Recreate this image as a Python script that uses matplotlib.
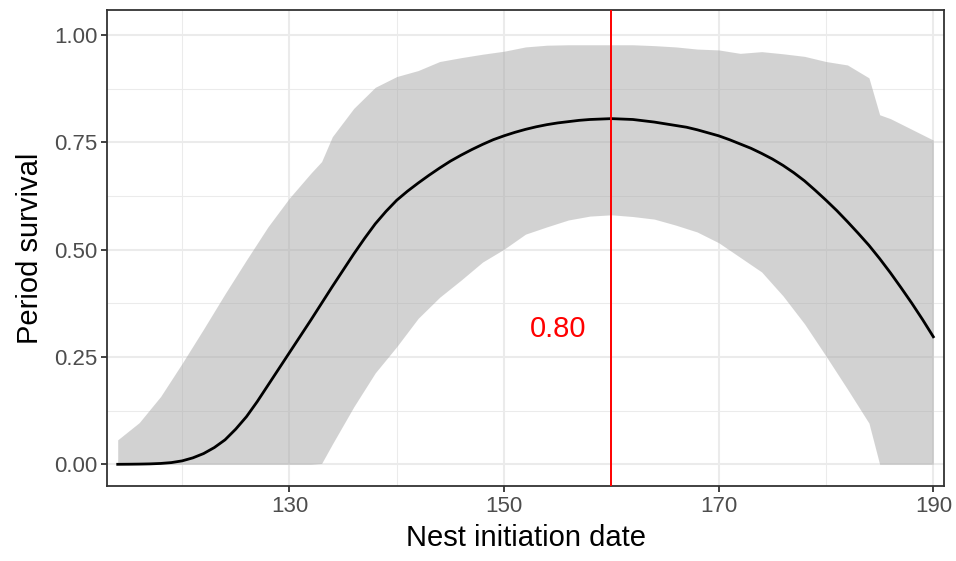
import numpy as np
import matplotlib
matplotlib.use("Agg")
import matplotlib.pyplot as plt
from matplotlib.ticker import MultipleLocator

plt.rcParams['font.family'] = ['Liberation Sans', 'DejaVu Sans']

# nest initiation day for the fitted line
day = list(range(114, 191))

# predicted period survival
survival = [0.0, 0.0002, 0.0005, 0.001, 0.002, 0.004, 0.008, 0.015, 0.025, 0.039,
            0.057, 0.082, 0.111, 0.146, 0.184, 0.222, 0.26, 0.298, 0.336, 0.375,
            0.414, 0.452, 0.49, 0.526, 0.56, 0.589, 0.615, 0.636, 0.655, 0.673,
            0.69, 0.706, 0.72, 0.733, 0.745, 0.756, 0.765, 0.773, 0.780, 0.786,
            0.791, 0.795, 0.798, 0.801, 0.803, 0.804, 0.805, 0.804, 0.803, 0.800,
            0.797, 0.793, 0.789, 0.785, 0.779, 0.772, 0.765, 0.756, 0.746, 0.736,
            0.724, 0.711, 0.696, 0.679, 0.66, 0.638, 0.615, 0.591, 0.565, 0.538,
            0.51, 0.479, 0.446, 0.411, 0.375, 0.337, 0.297]

# confidence band
band_day = [114, 116, 118, 120, 122, 124, 126, 128, 130, 132, 133, 134, 136, 138,
            140, 142, 144, 146, 148, 150, 152, 154, 156, 158, 160, 162, 164, 166,
            168, 170, 172, 174, 176, 178, 180, 182, 184, 185, 186, 188, 190]
upper = [0.057, 0.097, 0.158, 0.235, 0.315, 0.397, 0.476, 0.553, 0.62, 0.678,
         0.705, 0.763, 0.829, 0.878, 0.903, 0.917, 0.938, 0.947, 0.955, 0.962,
         0.972, 0.976, 0.977, 0.977, 0.977, 0.977, 0.975, 0.972, 0.967, 0.965,
         0.957, 0.961, 0.956, 0.95, 0.938, 0.93, 0.90, 0.814, 0.805, 0.78, 0.755]
lower = [0, 0, 0, 0, 0, 0, 0, 0, 0, 0,
         0.002, 0.047, 0.134, 0.213, 0.274, 0.34, 0.389, 0.429, 0.471, 0.501,
         0.536, 0.553, 0.569, 0.578, 0.581, 0.577, 0.571, 0.557, 0.541, 0.516,
         0.482, 0.448, 0.392, 0.327, 0.252, 0.175, 0.096, 0.0, 0, 0, 0]

peak_day = 160
peak_label = "0.80"

fig = plt.figure(figsize=(9.56, 5.61), dpi=100)
ax = fig.add_axes([0.1119, 0.1337, 0.8756, 0.8485])

ax.xaxis.set_major_locator(MultipleLocator(20, offset=10))
ax.xaxis.set_minor_locator(MultipleLocator(20))
ax.yaxis.set_major_locator(MultipleLocator(0.25))
ax.yaxis.set_minor_locator(MultipleLocator(0.125))
ax.grid(which='major', color='#EBEBEB', linewidth=1.5, zorder=0)
ax.grid(which='minor', color='#EBEBEB', linewidth=0.75, zorder=0)
ax.set_axisbelow(True)

ax.fill_between(band_day, lower, upper, color='#A7A7A7', alpha=0.5, linewidth=0, zorder=1)
ax.plot(day, survival, color='black', linewidth=2.0, zorder=2)
ax.axvline(peak_day, color='#FF0000', linewidth=1.4, zorder=3)
ax.text(155, 0.296, peak_label, color='#FF0000', fontsize=21, ha='center', va='baseline')

ax.set_xlim(113, 191)
ax.set_ylim(-0.0505, 1.058)
ax.set_yticks([0, 0.25, 0.5, 0.75, 1.0])
ax.set_yticklabels(['0.00', '0.25', '0.50', '0.75', '1.00'])

for s in ax.spines.values():
    s.set_color('#333333')
    s.set_linewidth(1.3)
ax.tick_params(which='major', length=4, width=1.3, color='#333333',
               labelcolor='#4D4D4D', labelsize=16, pad=3)
ax.tick_params(which='minor', length=0)

ax.set_xlabel('Nest initiation date', fontsize=21, labelpad=5)
ax.set_ylabel('Period survival', fontsize=21, labelpad=7)

fig.savefig('out.png', dpi=100)
